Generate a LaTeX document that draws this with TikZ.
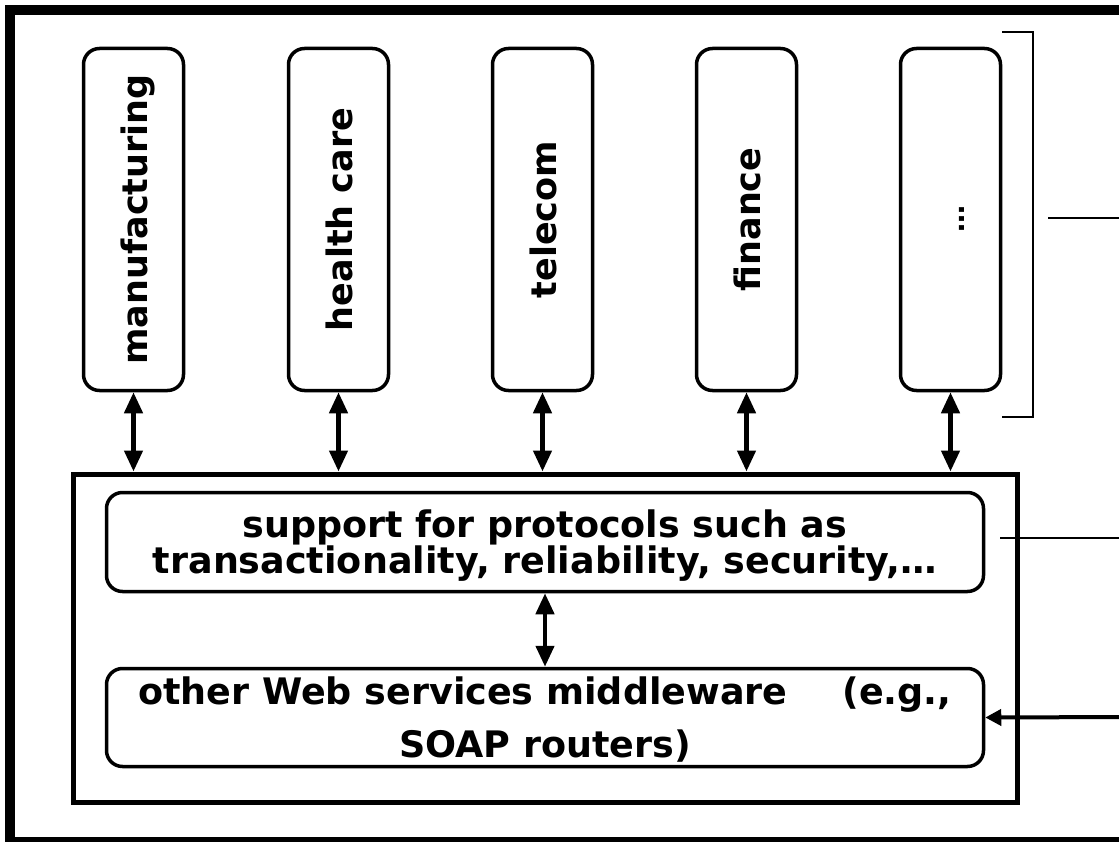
\documentclass[tikz,border=0pt]{standalone}
\usepackage{fontspec}
\setmainfont{DejaVu Sans}
\usetikzlibrary{arrows.meta}
\begin{document}
\begin{tikzpicture}[x=1pt,y=-1pt,
  vbox/.style={draw, line width=3.5pt, rounded corners=16pt, minimum width=100pt, minimum height=342pt, inner sep=0pt},
  vlabel/.style={rotate=90, anchor=base, inner sep=0pt, font=\fontsize{35}{40}\selectfont\bfseries},
  hbox/.style={draw, line width=3.5pt, rounded corners=16pt, inner sep=0pt, minimum width=877pt, align=center, text depth=0pt},
  biarrow/.style={{Triangle[length=21pt,width=18pt]}-{Triangle[length=21pt,width=18pt]}, line width=4.5pt},
]
\useasboundingbox (0,0) rectangle (1119,842);
\draw[line width=10pt] (9.5,10) rectangle (1140,842);
% vertical domain boxes
\node[vbox] (m1) at (133.5,219.5) {};
\node[vbox] (m2) at (338.5,219.5) {};
\node[vbox] (m3) at (542.5,219.5) {};
\node[vbox] (m4) at (746.5,219.5) {};
\node[vbox] (m5) at (950.5,219.5) {};
\node[vlabel] (t1) at ([xshift=14pt]m1.center) {manufacturing};
\node[vlabel] (t2) at ([xshift=14pt]m2.center) {health care};
\node[vlabel] (t3) at ([xshift=14pt]m3.center) {telecom};
\node[vlabel] (t4) at ([xshift=14pt]m4.center) {finance};
\node[vlabel, font=\fontsize{27}{30}\selectfont\bfseries] (t5) at ([xshift=14pt]m5.center) {…};
% middleware container
\node[draw, line width=5pt, minimum width=944pt, minimum height=328pt, inner sep=0pt] (mw) at (545.5,638) {};
\node[hbox, minimum height=99pt, font=\fontsize{36.5}{36}\selectfont\bfseries] (sup) at (545,542)
  {support for protocols such as\\transactionality, reliability, security,…};
\node[hbox, minimum height=98pt, font=\fontsize{36.5}{53}\selectfont\bfseries] (oth) at (545,717.5)
  {other Web services middleware\hspace{55pt}(e.g.,\\SOAP routers)};
% arrows
\foreach \i in {1,...,5} \draw[biarrow] (m\i.south) -- (m\i.south |- mw.north);
\draw[biarrow] (sup.south) -- (oth.north);
\coordinate (rin) at (1130,717);
\draw[line width=4pt, -{Triangle[length=16pt,width=16pt]}] (rin) -- (oth.east);
% annotation lines
\coordinate (s1) at (1000,538);
\coordinate (s2) at (1130,538);
\draw[line width=2pt] (s1) -- (s2);
\coordinate (b1) at (1002,32);
\coordinate (b2) at (1033,32);
\coordinate (b3) at (1033,417);
\coordinate (b4) at (1002,417);
\draw[line width=1.5pt] (b1) -- (b2) -- (b3) -- (b4);
\coordinate (h1) at (1048,218);
\coordinate (h2) at (1130,218);
\draw[line width=2pt] (h1) -- (h2);
\end{tikzpicture}
\end{document}
